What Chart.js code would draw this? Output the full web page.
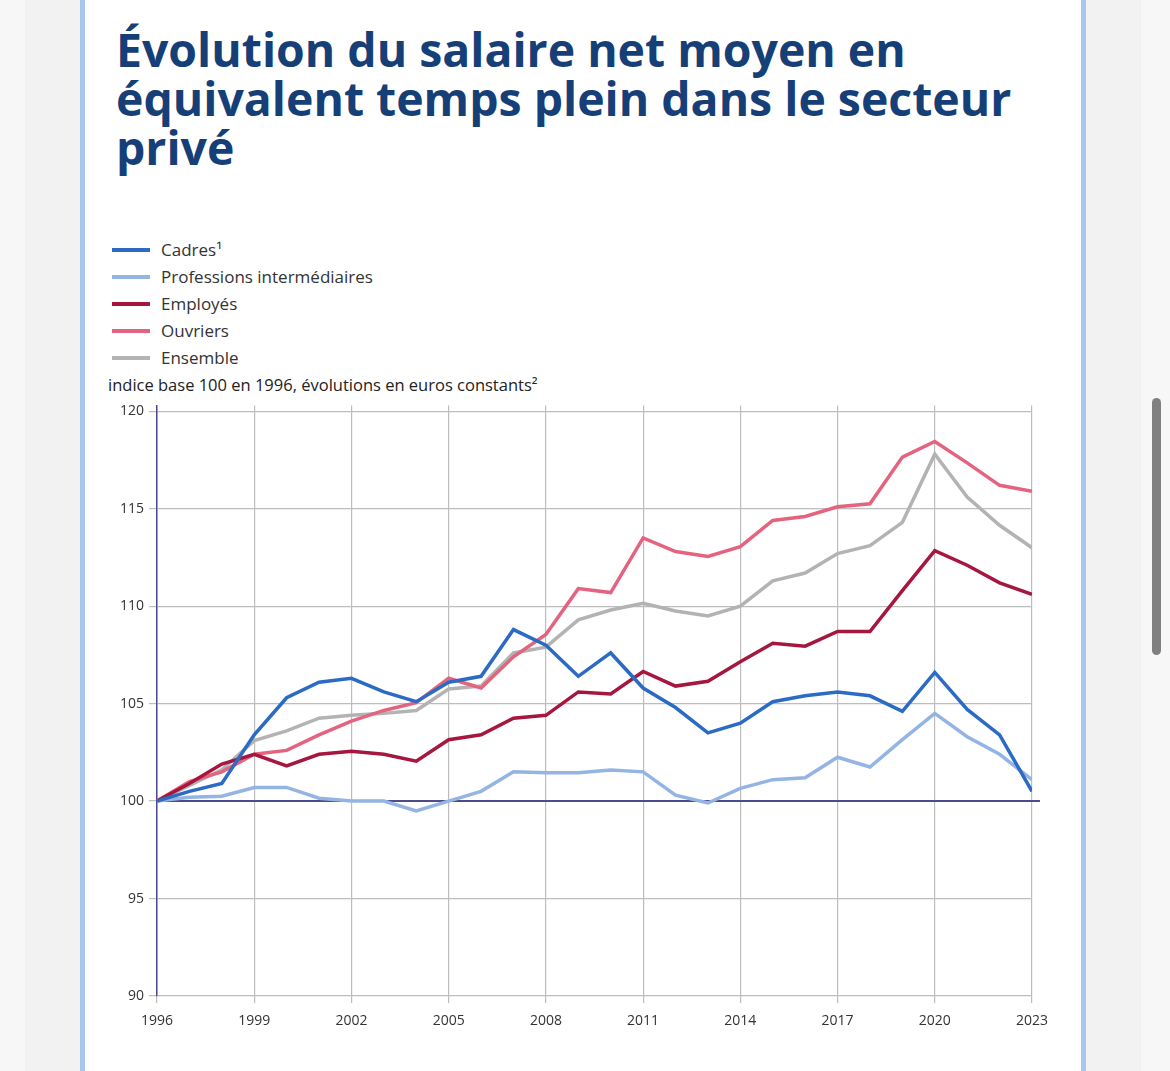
<!DOCTYPE html>
<html lang="fr">
<head>
<meta charset="utf-8">
<script src="https://cdn.jsdelivr.net/npm/chart.js@4.4.1/dist/chart.umd.min.js"></script>
<style>
  html, body { margin: 0; padding: 0; }
  body {
    width: 1170px; height: 1071px; overflow: hidden; position: relative;
    background: #f7f7f7; font-family: "Open Sans", sans-serif;
  }
  #fond { position: absolute; left: 25px; top: 0; width: 1116px; height: 1071px; background: #f2f2f2; }
  #carte {
    position: absolute; left: 80px; top: 0; width: 996px; height: 1071px;
    background: #fff; border-left: 5px solid #a9c6ee; border-right: 5px solid #a9c6ee;
  }
  #titre {
    position: absolute; left: 116px; top: 25px; margin: 0;
    font-size: 46.4px; line-height: 49px; font-weight: 700; color: #163f78;
  }
  #legende { position: absolute; left: 112px; top: 236px; }
  .item { height: 27px; display: flex; align-items: center; font-size: 17px; color: #333; }
  .trait { width: 38px; height: 4px; margin-right: 11px; }
  #unite { position: absolute; left: 108px; top: 373px; font-size: 16.5px; color: #222; }
  #zone { position: absolute; left: 85px; top: 392px; width: 995px; height: 653px; }
  #barre { position: absolute; left: 1152px; top: 398px; width: 9px; height: 257px; border-radius: 5px; background: #808080; }
</style>
</head>
<body>
<div id="fond"></div>
<div id="carte"></div>
<h1 id="titre">Évolution du salaire net moyen en<br>équivalent temps plein dans le secteur<br>privé</h1>
<div id="legende"></div>
<div id="unite">indice base 100 en 1996, évolutions en euros constants²</div>
<div id="zone"><canvas id="graphique"></canvas></div>
<div id="barre"></div>
<script>
const annees = [1996, 1997, 1998, 1999, 2000, 2001, 2002, 2003, 2004, 2005, 2006, 2007, 2008, 2009,
  2010, 2011, 2012, 2013, 2014, 2015, 2016, 2017, 2018, 2019, 2020, 2021, 2022, 2023];
const graduationsY = [90, 95, 100, 105, 110, 115, 120];

const cadres = [100, 100.5, 100.9, 103.4, 105.3, 106.1, 106.3, 105.6, 105.1, 106.1, 106.4, 108.8, 108.0, 106.4,
  107.6, 105.8, 104.8, 103.5, 104.0, 105.1, 105.4, 105.6, 105.4, 104.6, 106.6, 104.7, 103.4, 100.5];
const profInter = [100, 100.2, 100.25, 100.7, 100.7, 100.15, 100.0, 100.0, 99.5, 100.0, 100.5, 101.5, 101.45, 101.45,
  101.6, 101.5, 100.3, 99.9, 100.65, 101.1, 101.2, 102.25, 101.75, 103.15, 104.5, 103.3, 102.4, 101.1];
const employes = [100, 100.9, 101.9, 102.4, 101.8, 102.4, 102.55, 102.4, 102.05, 103.15, 103.4, 104.25, 104.4, 105.6,
  105.5, 106.65, 105.9, 106.15, 107.15, 108.1, 107.95, 108.7, 108.7, 110.8, 112.85, 112.1, 111.2, 110.6];
const ouvriers = [100, 101.0, 101.5, 102.4, 102.6, 103.4, 104.1, 104.65, 105.05, 106.3, 105.8, 107.4, 108.55, 110.9,
  110.7, 113.5, 112.8, 112.55, 113.05, 114.4, 114.6, 115.1, 115.25, 117.65, 118.45, 117.35, 116.2, 115.9];
const ensemble = [100, 100.8, 101.6, 103.1, 103.6, 104.25, 104.4, 104.5, 104.65, 105.75, 105.9, 107.6, 107.9, 109.3,
  109.8, 110.15, 109.75, 109.5, 110.0, 111.3, 111.7, 112.7, 113.1, 114.3, 117.8, 115.6, 114.15, 113.0];

const series = [
  { nom: "Cadres¹", valeurs: cadres, couleur: "#2c6bc4" },
  { nom: "Professions intermédiaires", valeurs: profInter, couleur: "#94b4e4" },
  { nom: "Employés", valeurs: employes, couleur: "#a6173f" },
  { nom: "Ouvriers", valeurs: ouvriers, couleur: "#e4637f" },
  { nom: "Ensemble", valeurs: ensemble, couleur: "#b3b3b3" }
];

// légende en HTML
const legende = document.getElementById("legende");
series.forEach(s => {
  const item = document.createElement("div");
  item.className = "item";
  item.innerHTML = `<span class="trait" style="background:${s.couleur}"></span>${s.nom}`;
  legende.appendChild(item);
});

// ligne de base 100
const ligneBase = {
  id: "ligneBase",
  beforeDatasetsDraw(chart) {
    const { ctx, chartArea, scales } = chart;
    const y = scales.y.getPixelForValue(100);
    ctx.save();
    ctx.strokeStyle = "#4e4a8e";
    ctx.lineWidth = 2;
    ctx.beginPath();
    ctx.moveTo(chartArea.left, y);
    ctx.lineTo(chartArea.right + 8, y);
    ctx.stroke();
    ctx.restore();
  }
};

new Chart(document.getElementById("graphique").getContext("2d"), {
  type: "line",
  data: {
    datasets: series.map(s => ({
      label: s.nom,
      data: annees.map((a, i) => ({ x: a, y: s.valeurs[i] })),
      borderColor: s.couleur,
      backgroundColor: s.couleur,
      borderWidth: 3.5,
      pointRadius: 0,
      tension: 0
    }))
  },
  options: {
    responsive: true,
    maintainAspectRatio: false,
    animation: false,
    layout: { padding: { top: 6, right: 48, left: 0, bottom: 0 } },
    plugins: { legend: { display: false }, tooltip: { enabled: false } },
    scales: {
      x: {
        type: "linear",
        min: 1996, max: 2023,
        ticks: { stepSize: 3, callback: v => String(v), color: "#333", font: { family: "Open Sans", size: 14 }, padding: 10, maxRotation: 0 },
        grid: { color: "#bdbdbd", lineWidth: 1.2, tickLength: 7 },
        border: { display: false },
        afterFit: axe => { axe.height = 49; }
      },
      y: {
        min: 90, max: 120.3,
        afterBuildTicks: axe => { axe.ticks = graduationsY.map(v => ({ value: v })); },
        ticks: { color: "#333", font: { family: "Open Sans", size: 14 }, padding: 5 },
        grid: { color: "#bdbdbd", lineWidth: 1.2, tickLength: 8 },
        border: { display: true, color: "#4e4a8e", width: 1.5 },
        afterFit: axe => { axe.width = 72; }
      }
    }
  },
  plugins: [ligneBase]
});
</script>
</body>
</html>
